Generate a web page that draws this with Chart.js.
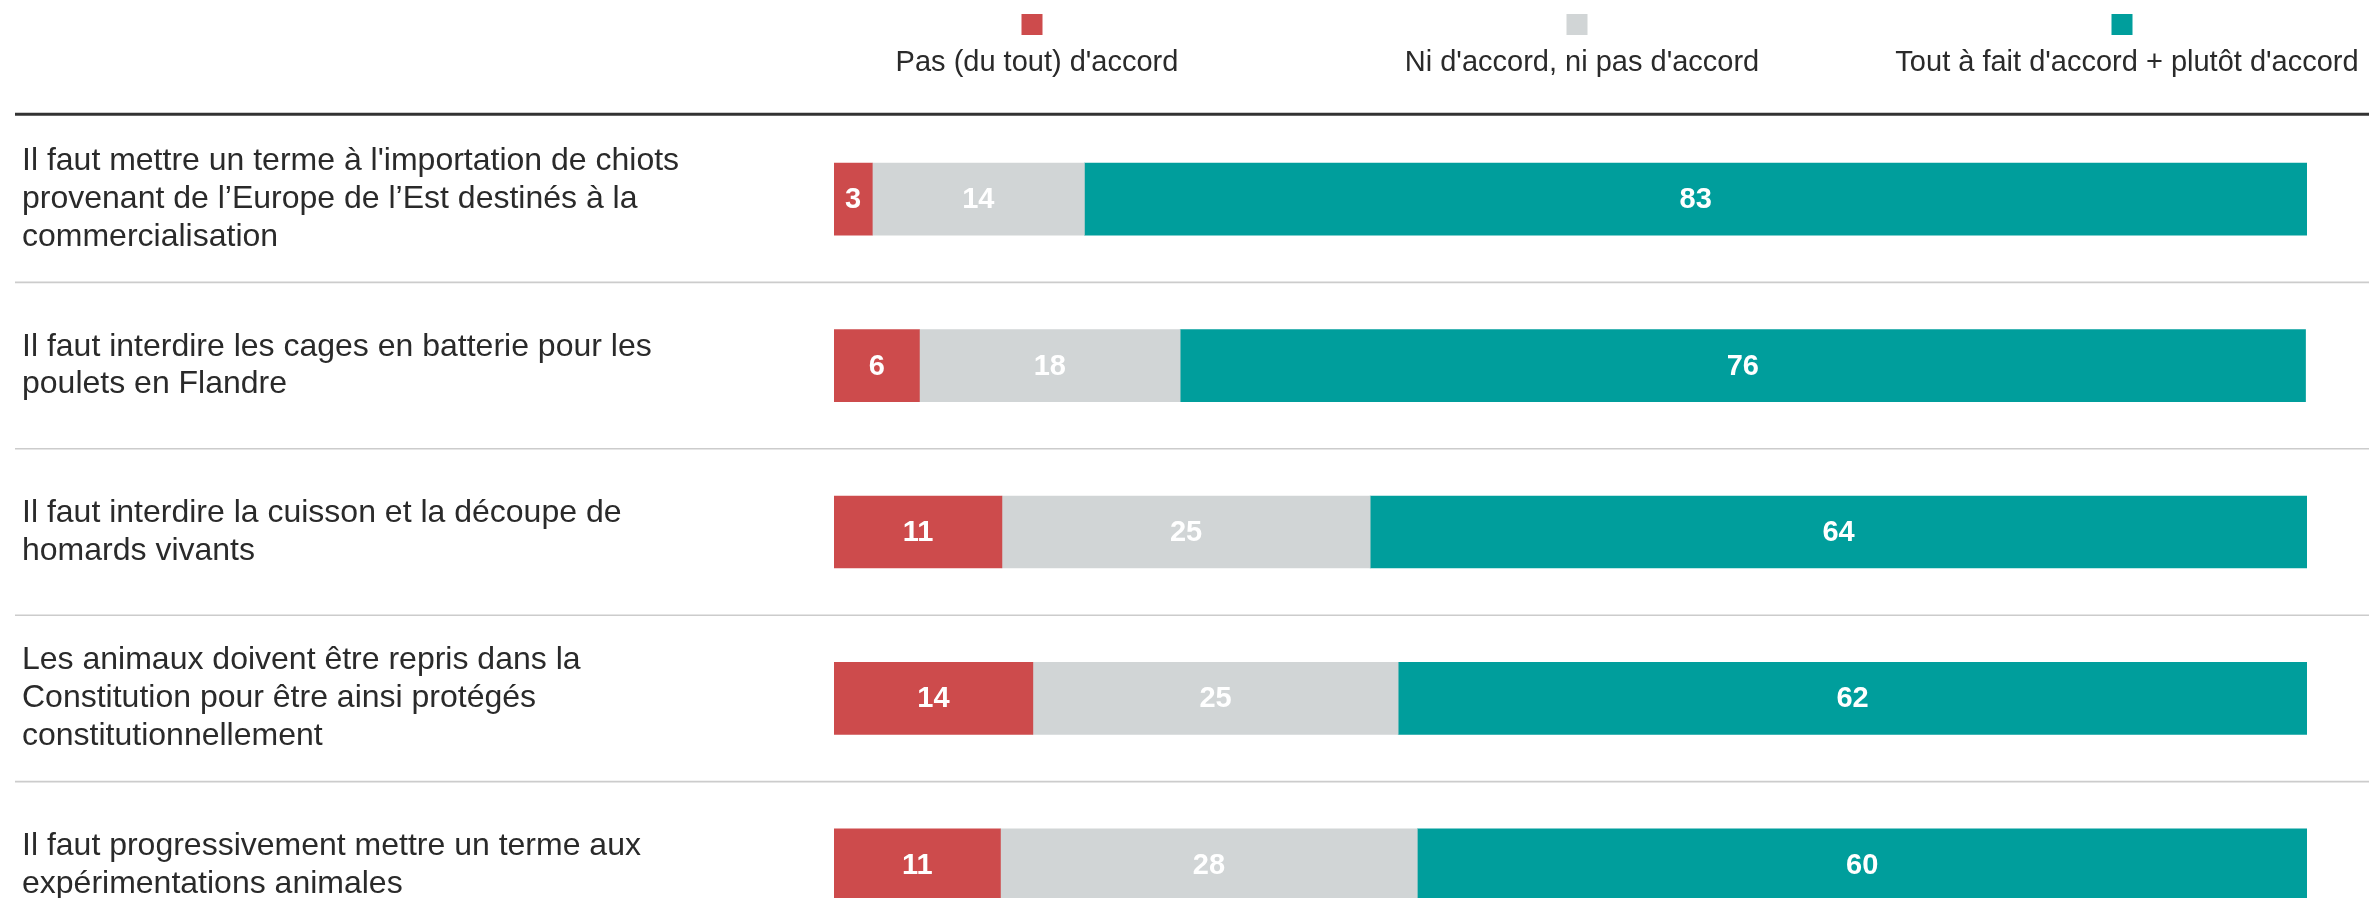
<!DOCTYPE html>
<html>
<head>
<meta charset="utf-8">
<script src="https://cdn.jsdelivr.net/npm/chart.js@4.4.0/dist/chart.umd.min.js"></script>
<style>
  html, body { margin: 0; padding: 0; background: #ffffff; overflow: hidden; width: 2369px; height: 898px; }
  #wrap { position: relative; width: 2369px; height: 898px; overflow: hidden; }
  #box { position: absolute; left: 0; top: 0; width: 2369px; height: 960px; }
</style>
</head>
<body>
<div id="wrap"><div id="box"><canvas id="c"></canvas></div></div>
<script>
// ---- Data ----
const categories = [
  ["Il faut mettre un terme à l'importation de chiots", "provenant de l’Europe de l’Est destinés à la", "commercialisation"],
  ["Il faut interdire les cages en batterie pour les", "poulets en Flandre"],
  ["Il faut interdire la cuisson et la découpe de", "homards vivants"],
  ["Les animaux doivent être repris dans la", "Constitution pour être ainsi protégés", "constitutionnellement"],
  ["Il faut progressivement mettre un terme aux", "expérimentations animales"]
];
const seriesNames = ["Pas (du tout) d'accord", "Ni d'accord, ni pas d'accord", "Tout à fait d'accord + plutôt d'accord"];
const disagree = [2.6, 5.8, 11.4, 13.5, 11.3];
const neutral  = [14.4, 17.7, 25.0, 24.8, 28.3];
const agree    = [83.0, 76.4, 63.6, 61.7, 60.4];

const colors = ["#CD4B4C", "#D1D5D6", "#009E9C"];
const FONT = "'Liberation Sans', Arial, Helvetica, sans-serif";

// ---- Plugins ----
const rowLines = {
  id: 'rowLines',
  beforeDatasetsDraw(chart) {
    const ctx = chart.ctx;
    const y = chart.scales.y;
    const n = chart.data.labels.length;
    const band = (y.getPixelForValue(1) - y.getPixelForValue(0));
    ctx.save();
    ctx.strokeStyle = '#333333';
    ctx.lineWidth = 3;
    ctx.beginPath();
    const top = y.getPixelForValue(0) - band / 2 - 1.8;
    ctx.moveTo(15, top);
    ctx.lineTo(chart.width, top);
    ctx.stroke();
    ctx.strokeStyle = '#cccccc';
    ctx.lineWidth = 1.6;
    for (let i = 1; i < n; i++) {
      const py = (y.getPixelForValue(i - 1) + y.getPixelForValue(i)) / 2;
      ctx.beginPath();
      ctx.moveTo(15, py);
      ctx.lineTo(chart.width, py);
      ctx.stroke();
    }
    ctx.restore();
  }
};

const valueLabels = {
  id: 'valueLabels',
  afterDatasetsDraw(chart) {
    const ctx = chart.ctx;
    ctx.save();
    ctx.font = "bold 29px " + FONT;
    ctx.fillStyle = '#ffffff';
    ctx.textAlign = 'center';
    ctx.textBaseline = 'middle';
    chart.data.datasets.forEach((ds, di) => {
      const meta = chart.getDatasetMeta(di);
      meta.data.forEach((bar, i) => {
        const v = ds.data[i];
        const cx = (bar.x + bar.base) / 2;
        ctx.fillText(String(Math.round(v)), cx, bar.y + 1);
      });
    });
    ctx.restore();
  }
};

const topLegend = {
  id: 'topLegend',
  afterDraw(chart) {
    const ctx = chart.ctx;
    const textCenters = [1037, 1582, 2127];
    ctx.save();
    ctx.font = "29px " + FONT;
    ctx.textAlign = 'center';
    ctx.textBaseline = 'alphabetic';
    chart.data.datasets.forEach((ds, i) => {
      const cx = textCenters[i];
      ctx.fillStyle = ds.backgroundColor;
      ctx.fillRect(cx - 5 - 10.5, 14, 21, 21);
      ctx.fillStyle = '#2a2a2a';
      ctx.fillText(ds.label, cx, 71);
    });
    ctx.restore();
  }
};

// ---- Chart ----
new Chart(document.getElementById('c'), {
  type: 'bar',
  data: {
    labels: categories,
    datasets: [
      { label: seriesNames[0], data: disagree, backgroundColor: colors[0] },
      { label: seriesNames[1], data: neutral,  backgroundColor: colors[1] },
      { label: seriesNames[2], data: agree,    backgroundColor: colors[2] }
    ]
  },
  options: {
    indexAxis: 'y',
    responsive: true,
    maintainAspectRatio: false,
    animation: false,
    devicePixelRatio: 1,
    barThickness: 72,
    borderWidth: 0,
    layout: { padding: { left: 22, right: 62, top: 116, bottom: 12 } },
    plugins: {
      legend: { display: false },
      tooltip: { enabled: false }
    },
    scales: {
      x: {
        stacked: true, min: 0, max: 100, display: false
      },
      y: {
        stacked: true,
        grid: { display: false },
        border: { display: false },
        ticks: {
          crossAlign: 'far',
          color: '#2a2a2a',
          padding: 0,
          font: { family: FONT, size: 32, lineHeight: 1.18 }
        },
        afterFit(scale) {
          scale.width = 812;
          scale.paddingTop = 0;
          scale.paddingBottom = 0;
        }
      }
    }
  },
  plugins: [rowLines, valueLabels, topLegend]
});
</script>
</body>
</html>
